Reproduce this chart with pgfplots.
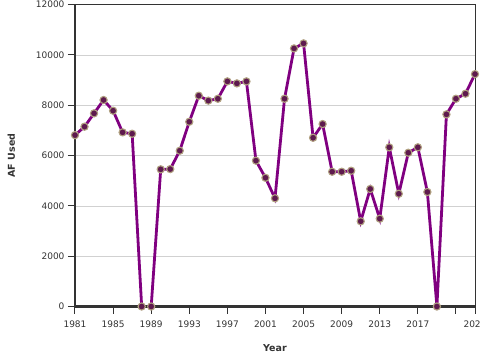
\documentclass[border=0pt]{standalone}
\usepackage{pgfplots}
\pgfplotsset{compat=1.18}
\usepackage{fontspec}
\setmainfont{DejaVu Sans}
\definecolor{linepurple}{HTML}{800080}
\definecolor{markfill}{HTML}{5E1A4E}
\definecolor{markedge}{HTML}{B0A080}
\definecolor{axisdark}{HTML}{333333}
\begin{document}
\begin{tikzpicture}
\begin{axis}[
  scale only axis,
  width=400pt, height=302pt,
  xmin=1981, xmax=2023, ymin=0, ymax=12000,
  xtick={1981,1985,1989,1993,1997,2001,2005,2009,2013,2017,2021,2023},
  xticklabels={1981,1985,1989,1993,1997,2001,2005,2009,2013,2017,{},2023},
  ytick={0,2000,4000,6000,8000,10000,12000},
  /pgf/number format/assume math mode=true,
  /pgf/number format/1000 sep={},
  scaled y ticks=false,
  tick label style={font=\fontsize{9}{10}\selectfont, text=axisdark},
  xticklabel style={yshift=-4pt},
  tick align=outside,
  major tick length=7pt,
  tick style={axisdark, line width=1pt},
  xtick pos=bottom, ytick pos=left,
  ymajorgrids,
  grid style={line width=0.6pt, color=black!18},
  axis line style={axisdark, line width=0.8pt},
  xlabel={\textbf{Year}},
  ylabel={\textbf{AF Used}},
  label style={font=\fontsize{9.5}{11}\selectfont, text=axisdark},
  xlabel style={yshift=-10pt},
  ylabel style={yshift=14pt},
  clip=false,
]
\addplot[color=linepurple, line width=2.8pt, mark=*, mark size=3.6pt,
  mark options={fill=markfill, draw=markedge, line width=1.1pt}]
  coordinates {
(1981,6810) (1982,7145) (1983,7675) (1984,8205) (1985,7780) (1986,6920) (1987,6865)
(1988,0) (1989,0) (1990,5450) (1991,5460) (1992,6190) (1993,7340) (1994,8375)
(1995,8180) (1996,8255) (1997,8945) (1998,8865) (1999,8945) (2000,5795) (2001,5115)
(2002,4300) (2003,8255) (2004,10255) (2005,10455) (2006,6705) (2007,7250) (2008,5355)
(2009,5355) (2010,5395) (2011,3385) (2012,4670) (2013,3490) (2014,6325) (2015,4480)
(2016,6110) (2017,6325) (2018,4550) (2019,0) (2020,7635) (2021,8255) (2022,8455)
(2023,9235)
  };
\draw[axisdark, line width=2.2pt] (rel axis cs:0,1) -- (rel axis cs:0,0) -- (rel axis cs:1,0);
\end{axis}
\pgfresetboundingbox
\path[use as bounding box] (-75pt,-53.5pt) rectangle (405pt,306.5pt);
\end{tikzpicture}
\end{document}
